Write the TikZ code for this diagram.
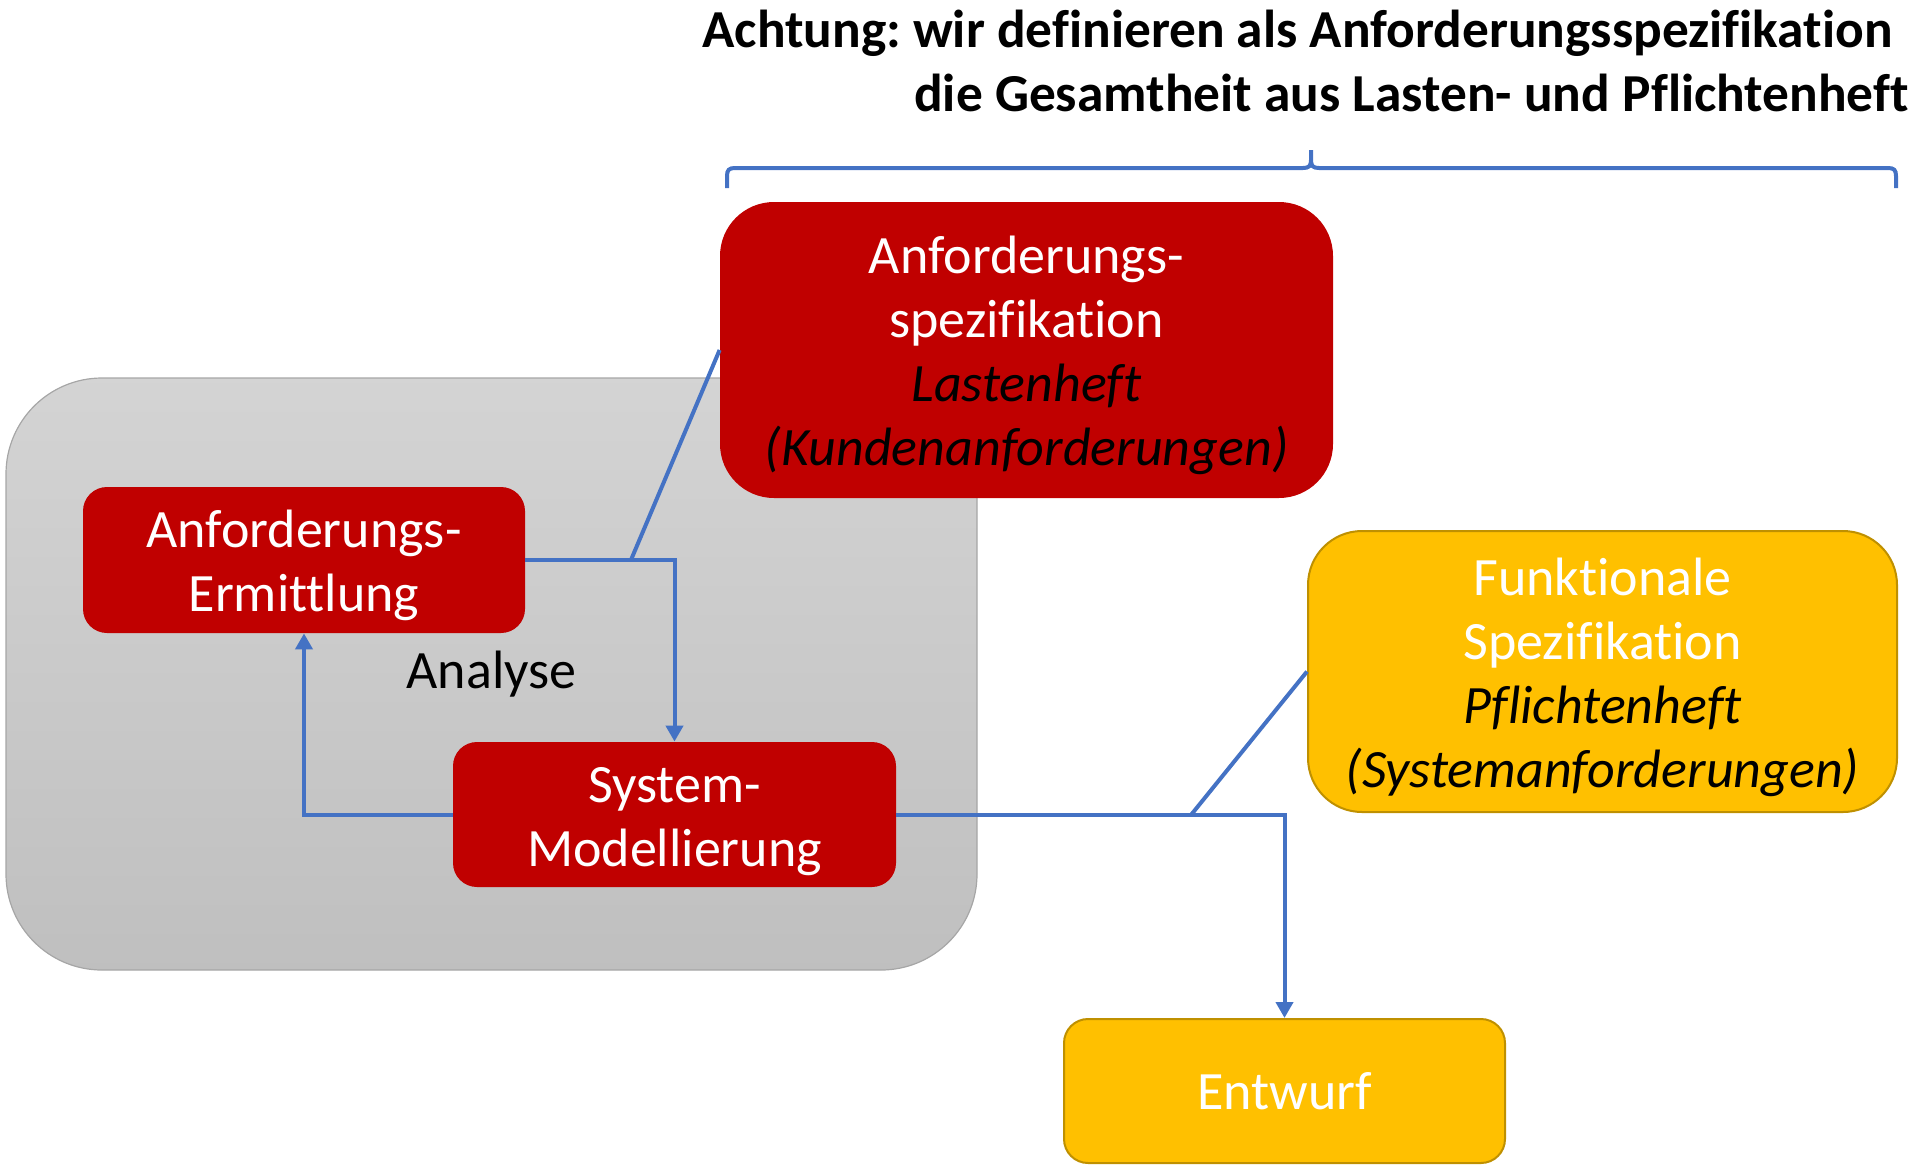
\documentclass[tikz,border=0pt]{standalone}
\usepackage{fontspec}
\setmainfont{Carlito}[Ligatures={CommonOff,ContextualOff}]
\frenchspacing
\usetikzlibrary{positioning}
\usetikzlibrary{arrows.meta}
\definecolor{boxred}{HTML}{C00000}
\definecolor{boxgold}{HTML}{FFC000}
\definecolor{goldline}{HTML}{BF9000}
\definecolor{linkblue}{HTML}{4472C4}
\newcommand{\firstline}{\rule{0pt}{24.5pt}}
\begin{document}
\begin{tikzpicture}[x=0.5pt, y=-0.5pt,
	every node/.style = {font=\fontsize{27}{32}\selectfont, align=center},
	redbox/.style = {fill=boxred, text=white, rounded corners=12pt, inner sep=0pt},
	goldbox/.style = {fill=boxgold, draw=goldline, line width=1pt, text=white, rounded corners=12pt, inner sep=0pt},
	link/.style = {draw=linkblue, line width=2pt},
	linkarrow/.style = {link, -{Triangle[length=8pt,width=8.5pt]}}
	]
	\useasboundingbox (0,0) rectangle (1911,1168);
	\node (title) [anchor=base east, align=right, inner sep=0pt,
	font=\bfseries\fontsize{26.7}{32}\selectfont] at (1909,111)
	{Achtung: wir definieren als Anforderungsspezifikation\hspace*{8pt}\\die Gesamtheit aus Lasten- und Pflichtenheft};
	\node (ana) [draw=black!35, line width=0.6pt, top color=black!17, bottom color=black!25,
	rounded corners=48pt, minimum width=485.5pt, minimum height=296pt, inner sep=0pt] at (491.5,674) {Analyse};
	\node (lh) [redbox, rounded corners=27pt, minimum width=306.5pt, minimum height=148pt] at (1026.5,350)
	{\firstline Anforderungs-\\spezifikation\\\textcolor{black}{\itshape Lastenheft}\\\textcolor{black}{\itshape (Kundenanforderungen)}};
	\node (erm) [redbox, minimum width=221pt, minimum height=73pt] at (304,560) {\firstline Anforderungs-\\Ermittlung};
	\node (mod) [redbox, minimum width=221.5pt, minimum height=72.5pt] at (674.5,814.5) {\firstline System-\\Modellierung};
	\node (ph) [goldbox, rounded corners=27pt, minimum width=294.5pt, minimum height=140.5pt] at (1602.5,671.5)
	{\firstline Funktionale\\Spezifikation\\\textcolor{black}{\itshape Pflichtenheft}\\\textcolor{black}{\itshape (Systemanforderungen)}};
	\node (entw) [goldbox, minimum width=220.5pt, minimum height=72pt] at (1284.5,1091) {Entwurf};
	% connectors
	\draw [linkarrow] (erm.east) -| coordinate[pos=0.354] (j1) (mod.north);
	\draw [linkarrow] (mod.west) -| (erm.south);
	\draw [linkarrow] (mod.east) -| coordinate[pos=0.38] (j2) (entw.north);
	\draw [link] (j1) -- (lh.west);
	\draw [link] (j2) -- (ph.west);
	% brace
	\draw [link] (727,188) -- (727,176) .. controls (727,170) and (729,168) .. (735,168)
	-- (1303,168) .. controls (1309,168) and (1311,166) .. (1311,160) -- (1311,150) -- (1311,160)
	.. controls (1311,166) and (1313,168) .. (1319,168) -- (1888,168)
	.. controls (1894,168) and (1896,170) .. (1896,176) -- (1896,188);
\end{tikzpicture}
\end{document}
